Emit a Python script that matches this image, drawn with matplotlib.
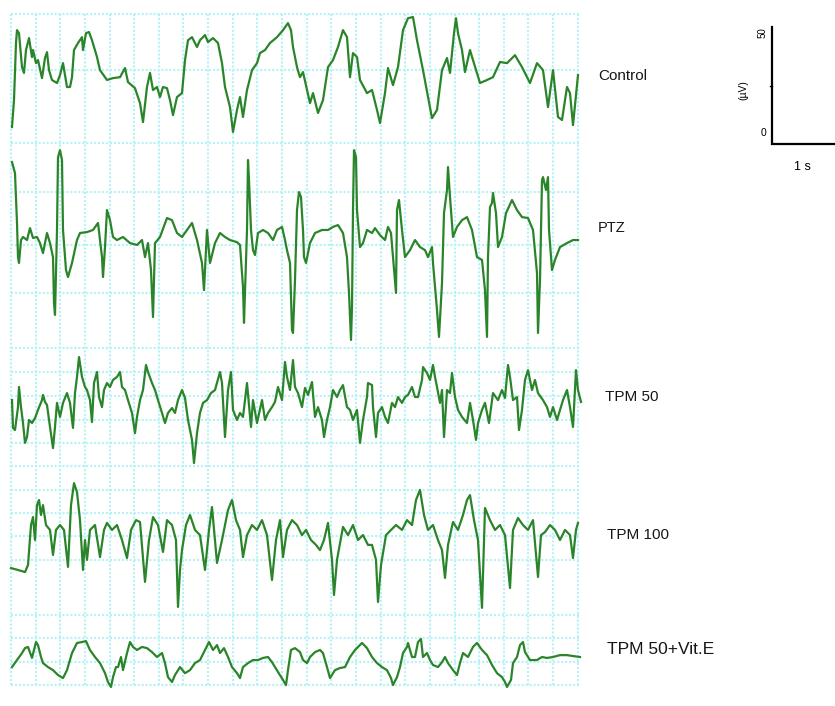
import numpy as np
import matplotlib.pyplot as plt

plt.rcParams['font.family'] = ['Liberation Sans', 'DejaVu Sans']

fs = 61.6

labels = ["Control", "PTZ", "TPM 50", "TPM 100", "TPM 50+Vit.E"]

ctrl_n = [1, 3, 5, 6, 8, 11, 13, 15, 18, 21, 22, 25, 27, 31, 34, 36, 38, 41, 46, 49, 52, 56, 59, 61, 63,
          67, 71, 72, 75, 78, 81, 86, 89, 96, 102, 109, 114, 117, 124, 129, 132, 136, 139, 142, 146, 149,
          152, 156, 159, 162, 166, 171, 174, 177, 181, 186, 189, 194, 197, 202, 207, 211, 214, 219, 222,
          226, 229, 232, 236, 241, 246, 249, 254, 259, 266, 272, 277, 280, 282, 286, 289, 292, 296, 299,
          302, 307, 312, 317, 322, 327, 332, 336, 339, 342, 346, 349, 356, 361, 366, 369, 374, 377, 382,
          387, 392, 397, 402, 406, 412, 417, 421, 426, 431, 436, 439, 443, 445, 447, 451, 454, 459, 462,
          469, 476, 482, 489, 496, 504, 511, 519, 526, 532, 537, 542, 547, 551, 556, 559, 562, 567]
ctrl_uv = [-22.2, -10.7, 13.7, 19.2, 17.9, 3.4, 0.9, 10.7, 15.8, 7.7, 10.7, 5.1, 6.4, -1.3, 7.3, 9.8, 2.1,
           -2.1, -3.4, 0.0, 5.1, -5.1, -5.1, -0.9, 10.7, 13.7, 16.2, 10.7, 17.9, 18.4, 14.9, 7.7, 2.1, -2.1,
           -1.3, -0.9, 3.0, -3.0, -5.6, -12.0, -20.1, -5.1, 0.9, -6.4, -5.1, -9.4, -5.1, -5.6, -10.7, -17.1,
           -9.4, -7.7, 6.4, 14.9, 16.2, 12.0, 14.9, 17.1, 14.1, 15.8, 13.7, 5.1, -5.1, -13.7, -24.3, -14.9,
           -9.4, -17.9, -6.4, 2.1, 5.1, 9.4, 10.7, 13.7, 16.2, 19.2, 22.2, 19.2, 12.0, 3.4, -0.9, 1.3, -6.4,
           -12.0, -7.7, -16.2, -10.7, 3.4, 6.4, 12.0, 19.2, 16.2, -0.9, 9.4, 7.7, -2.1, -7.7, -6.4, -14.9,
           -20.5, -7.7, 3.0, -4.3, 3.4, 19.2, 24.3, 24.8, 14.9, 2.1, -9.4, -18.4, -14.9, 2.1, 7.3, 0.9,
           17.9, 24.3, 17.9, 10.7, 1.3, 10.7, 6.4, -3.4, -2.1, -0.9, 5.6, 5.1, 8.5, 3.4, -3.4, 5.1, 2.1,
           -13.7, 2.1, -17.9, -19.2, -5.1, -7.7, -21.4, 0.0]

ptz_n = [1, 4, 6, 7, 8, 10, 12, 16, 19, 22, 26, 29, 32, 36, 39, 42, 43, 44, 46, 47, 49, 51, 52, 55, 57,
         61, 66, 69, 76, 82, 87, 89, 91, 92, 94, 96, 99, 102, 106, 112, 119, 126, 131, 134, 137, 140, 142,
         144, 149, 156, 161, 166, 171, 176, 181, 186, 191, 193, 196, 199, 204, 209, 214, 219, 226, 229,
         232, 233, 236, 237, 238, 240, 242, 244, 247, 252, 257, 262, 266, 271, 274, 276, 279, 281, 282,
         284, 286, 288, 290, 292, 293, 295, 299, 304, 311, 317, 322, 327, 332, 336, 338, 340, 341, 342,
         343, 345, 346, 349, 352, 356, 361, 364, 369, 374, 377, 380, 382, 385, 386, 388, 391, 394, 399,
         404, 409, 414, 417, 421, 422, 426, 428, 431, 433, 436, 437, 439, 442, 446, 451, 456, 461, 466,
         471, 474, 476, 477, 479, 481, 482, 485, 487, 491, 495, 501, 506, 511, 517, 522, 526, 527, 529,
         531, 532, 535, 537, 538, 541, 544, 549, 556, 562, 567]
ptz_uv = [33.3, 28.6, 7.3, -7.3, -9.8, 0.0, 1.3, 0.0, 5.1, 0.9, 1.3, -1.3, -5.6, 3.0, -1.3, -7.3, -26.9,
          -32.0, 4.3, 35.4, 38.4, 34.2, 4.3, -12.8, -15.8, -9.8, 0.0, 3.0, 3.4, 4.3, 7.3, 0.0, -7.3, -15.8,
          -3.0, 12.8, 8.5, 1.3, 0.0, 1.3, -1.3, -2.1, 0.0, -7.3, -1.3, -12.8, -32.9, -1.3, 1.3, 9.4, 8.5,
          3.0, 1.3, 4.3, 7.3, 0.0, -9.8, -21.4, 4.3, -9.8, -1.3, 3.0, 1.3, 0.0, -0.9, -2.1, -20.1, -35.4,
          4.3, 34.2, 25.6, 4.3, -4.3, -6.4, 3.0, 4.3, 3.0, 0.0, 4.3, 5.6, 0.0, -4.3, -9.8, -38.4, -39.7,
          -17.1, 12.8, 20.5, 18.4, 4.3, -7.3, -9.8, -1.3, 3.0, 4.3, 4.3, 5.6, 6.4, 3.0, -7.3, -22.6, -42.7,
          -28.6, 12.8, 38.4, 35.4, 12.8, -3.0, -1.3, 4.3, 3.0, 5.1, 2.1, 0.0, 5.6, 3.0, -7.3, -22.6, 12.8,
          17.1, 4.3, -7.3, -4.3, 0.0, -3.0, -4.3, -7.3, -3.0, -9.8, -29.9, -41.4, -18.4, 11.5, 21.4, 31.2,
          18.4, 1.3, 5.6, 8.5, 9.8, 4.3, -7.3, -8.5, -21.4, -41.4, -7.3, 14.1, 15.8, 20.1, 11.5, -3.0, 1.3,
          11.5, 17.1, 12.8, 9.8, 9.4, 4.3, -14.1, -39.7, -17.1, 25.6, 26.9, 21.4, 26.9, 4.3, -12.8, -8.5,
          -3.0, -1.3, 0.0, 0.0]

tpm50_n = [1, 2, 4, 7, 8, 10, 12, 14, 16, 18, 21, 24, 27, 31, 32, 34, 36, 39, 42, 44, 46, 49, 52, 56, 59,
           62, 64, 66, 68, 71, 74, 76, 79, 81, 83, 86, 88, 91, 93, 96, 99, 102, 106, 109, 111, 114, 117,
           121, 124, 126, 129, 132, 135, 137, 141, 144, 147, 151, 154, 157, 161, 164, 167, 171, 174, 177,
           181, 183, 186, 189, 192, 196, 200, 204, 209, 211, 214, 217, 220, 222, 226, 229, 232, 236, 240,
           242, 246, 251, 254, 257, 261, 264, 267, 271, 274, 276, 279, 282, 284, 287, 291, 294, 297, 301,
           304, 307, 311, 313, 316, 319, 322, 326, 329, 332, 336, 339, 342, 346, 349, 352, 356, 357, 361,
           362, 365, 367, 371, 374, 377, 381, 384, 387, 391, 394, 397, 401, 404, 407, 411, 412, 416, 419,
           422, 424, 426, 429, 431, 433, 436, 439, 441, 444, 447, 451, 456, 459, 462, 465, 467, 471, 474,
           478, 482, 487, 491, 494, 497, 499, 502, 506, 508, 511, 514, 517, 521, 524, 527, 532, 536, 539,
           542, 546, 549, 552, 556, 559, 562, 565, 567, 570]
tpm50_uv = [2.1, -9.8, -10.7, -0.9, 7.7, -0.9, -7.7, -16.2, -13.7, -6.4, -7.7, -5.6, -2.1, 2.1, 4.3, 1.3,
            0.0, -9.4, -18.4, -9.4, 0.9, -5.1, 0.9, 5.1, 0.9, -9.8, 5.1, 12.0, 20.5, 12.0, 7.7, 6.4, 2.1,
            -7.3, 9.4, 14.1, 3.4, -0.9, 6.4, 9.4, 7.7, 10.7, 12.0, 14.1, 7.7, 6.4, 2.1, -3.4, -12.0, -5.1,
            2.1, 6.4, 17.1, 14.1, 9.4, 6.4, 2.1, -3.4, -7.7, -3.4, -1.3, -3.4, 2.1, 6.4, 3.0, -6.4, -14.9,
            -24.8, -12.0, -3.4, 0.9, 2.1, 5.1, 6.4, 14.1, 9.4, -13.7, 6.4, 14.1, -2.1, -6.4, -3.4, -5.1,
            9.4, -9.4, 2.1, -7.7, 2.1, -6.4, -3.4, -0.9, 1.3, 7.7, 2.1, 18.4, 12.0, 6.4, 19.2, 7.7, 5.1,
            -0.9, 7.3, 4.3, 9.8, -5.1, -0.9, -6.4, -13.7, -6.4, -0.9, 6.4, 3.4, 6.4, 8.5, -0.9, -2.1,
            -6.4, -2.1, -16.2, -6.4, 3.4, 9.4, 8.5, -0.9, -13.7, -3.4, -0.9, -5.1, -7.7, 0.9, -0.9, 3.4,
            0.9, 3.4, 4.3, 7.7, 3.4, 3.4, 10.7, 16.2, 13.7, 10.7, 17.1, 12.0, 7.7, 0.9, 6.4, -13.7, 6.4,
            5.1, 13.7, 3.4, -2.1, -5.1, -7.7, 0.9, -6.4, -14.9, -7.7, -2.1, 0.9, -7.7, 5.1, 2.1, 6.4, 3.0,
            17.1, 12.0, 2.1, 3.4, -10.7, -2.1, 10.7, 14.9, 6.4, 10.7, 5.1, 2.1, -0.9, -5.1, -0.9, -6.4,
            -2.1, 2.1, 6.4, -0.9, -9.4, 14.9, 6.4, 1.3]

tpm100_n = [0, 7, 14, 17, 20, 22, 24, 26, 28, 30, 32, 35, 39, 42, 45, 49, 53, 57, 60, 63, 66, 69, 72, 74,
            76, 79, 84, 89, 93, 96, 101, 106, 111, 116, 120, 125, 129, 134, 138, 142, 147, 152, 156, 161,
            165, 167, 169, 171, 175, 179, 184, 189, 194, 198, 201, 206, 211, 217, 221, 225, 229, 232, 236,
            241, 246, 251, 256, 261, 265, 269, 272, 276, 281, 286, 291, 295, 300, 305, 309, 313, 317, 321,
            323, 326, 332, 337, 342, 347, 352, 357, 361, 365, 367, 370, 375, 380, 385, 391, 396, 401, 405,
            409, 413, 417, 422, 427, 431, 434, 437, 442, 447, 452, 456, 459, 463, 467, 471, 474, 479, 484,
            489, 494, 499, 502, 507, 512, 517, 522, 527, 530, 534, 539, 544, 549, 554, 559, 562, 565, 567]
tpm100_uv = [-12.0, -12.8, -13.7, -10.7, 6.4, 9.8, 0.0, 14.9, 17.1, 10.7, 14.9, 6.4, 4.3, -6.4, 4.3, 6.4,
             4.3, -11.5, 14.9, 24.3, 20.5, 8.5, -12.8, 0.0, -8.5, 4.3, 6.4, -7.3, 4.3, 7.3, 4.3, 6.4, 0.0,
             -7.7, 4.3, 8.5, 7.7, -17.9, 0.0, 9.8, 6.4, -5.1, 8.5, 6.4, 0.0, -28.6, -12.8, -4.3, 6.4, 10.7,
             4.3, 2.1, -12.8, 4.3, 14.1, -9.8, 0.0, 12.8, 17.1, 8.5, 4.3, -7.3, 2.1, 6.4, 4.3, 8.5, 2.1,
             -17.1, 0.0, 8.5, -7.3, 4.3, 8.5, 6.4, 2.1, 4.3, 0.0, -2.1, -4.3, 0.0, 7.3, -8.5, -23.5, -8.5,
             5.6, 2.1, 6.4, 0.0, 2.1, -2.1, -2.1, -8.5, -26.5, -10.7, 2.1, 4.3, 6.4, 4.3, 8.5, 6.4, 17.1,
             21.4, 10.7, 4.3, 6.4, 0.0, -4.3, -16.2, -2.1, 7.7, 4.3, 10.7, 17.1, 19.2, 8.5, 0.0, -29.0,
             13.7, 8.5, 4.3, 6.4, 2.1, -20.5, 4.3, 9.4, 6.4, 4.3, 8.5, -15.8, 2.1, 3.4, 6.4, 4.3, 0.0, 4.3,
             2.1, -7.7, 4.3, 7.3]

vite_n = [1, 6, 11, 14, 17, 21, 25, 27, 30, 32, 37, 42, 47, 52, 56, 61, 66, 71, 75, 79, 84, 89, 94, 97,
          100, 102, 105, 107, 110, 112, 116, 119, 122, 126, 131, 136, 141, 146, 151, 154, 157, 161, 164,
          169, 174, 179, 184, 189, 194, 198, 202, 206, 209, 213, 217, 221, 226, 229, 232, 237, 242, 247,
          252, 257, 261, 264, 267, 272, 275, 277, 280, 284, 289, 292, 296, 299, 304, 309, 312, 316, 319,
          324, 329, 334, 339, 344, 351, 356, 361, 366, 371, 376, 380, 382, 386, 389, 392, 396, 397, 401,
          404, 407, 410, 412, 416, 419, 422, 427, 431, 434, 437, 442, 446, 449, 452, 457, 462, 466, 471,
          476, 481, 486, 491, 494, 496, 500, 502, 506, 509, 512, 514, 519, 526, 531, 536, 542, 549, 556,
          562, 569]
vite_uv = [-3.0, 0.0, 3.0, 5.1, 5.6, 0.9, 7.7, 6.4, 1.3, -1.3, -3.0, -4.3, -6.4, -7.7, -4.3, 3.0, 7.3,
           7.7, 8.1, 4.3, 1.3, -1.3, -5.6, -9.4, -11.5, -7.3, -3.0, -3.0, 1.3, -4.3, 3.0, 7.7, 5.6, 4.3,
           5.6, 5.1, 3.4, 1.3, 3.0, -1.3, -7.3, -9.4, -6.4, -3.0, -5.6, -4.3, -1.3, 0.0, 4.3, 7.7, 4.3,
           6.4, 3.0, 5.1, 1.3, -3.0, -5.6, -7.7, -3.0, -1.3, 0.0, 0.0, 0.9, 1.3, -0.9, -3.0, -5.1, -8.5,
           -10.7, -4.3, 4.3, 5.1, 3.4, 0.0, -1.3, 1.3, 3.4, 4.3, 3.0, -3.0, -7.7, -4.3, -3.4, -3.0, 1.3,
           4.3, 7.3, 5.1, 1.3, -1.3, -3.0, -4.3, -7.7, -10.7, -7.3, -3.0, 3.0, 5.6, 7.3, 1.3, 1.3, 7.7,
           9.0, 1.3, 3.0, 0.0, -2.1, -3.0, -0.9, 1.3, -1.3, -4.3, -6.4, -1.3, 3.0, 1.3, 5.6, 7.3, 4.3,
           2.1, -2.1, -5.6, -7.3, -9.4, -11.5, -8.5, -1.3, 1.3, 6.4, 7.7, 3.4, 0.0, 0.0, 1.3, 0.9, 1.3,
           2.1, 2.1, 1.7, 1.3]

traces = [(ctrl_n, ctrl_uv), (ptz_n, ptz_uv), (tpm50_n, tpm50_uv),
          (tpm100_n, tpm100_uv), (vite_n, vite_uv)]

# layout (uV below top of grid) and label placement in pixels
offsets = [-26.1, -96.6, -167.1, -224.8, -276.1]
label_xy = [(598, 76), (598, 228), (605, 397), (607, 535), (607, 649)]
label_size = [11, 10.5, 11, 11, 12.5]

W, H = 835, 706
fig = plt.figure(figsize=(W / 100, H / 100), dpi=100)
ax = fig.add_axes([11 / W, 16 / H, 567 / W, 676 / H])
ax.set_xlim(0, 567 / fs)
ax.set_ylim(-288.9, 0)
ax.axis('off')

# cyan chart-paper grid
grid_kw = dict(color='#b4f2f6', lw=1.5, linestyle=(0, (1.0, 0.9)), zorder=1, clip_on=False)
for t in np.arange(0, 9.21, 0.4):
    ax.plot([t, t], [-286.8, 0], **grid_kw)
hy = [0, -23.9, -55.1, -76.1, -98.7, -119.2, -142.7, -153, -163.2, -173.5, -183.3, -193.2,
      -203.4, -213.2, -223.1, -233.3, -256.8, -266.7, -276.9, -286.8]
for y in hy:
    ax.plot([0, 9.22], [y, y], **grid_kw)

for (n, uv), off in zip(traces, offsets):
    ax.plot(np.array(n) / fs, off + np.array(uv), color='#2a852a', lw=1.6,
            zorder=3, clip_on=False)

for lab, (x, y), s in zip(labels, label_xy, label_size):
    fig.text(x / W, 1 - y / H, lab, fontsize=s, va='center', ha='left', color='#161616')

# scale bar: 50 uV / 1 s
t0 = (772 - 11) / fs
ax.plot([t0, t0, t0 + 1.05], [-5.6, -55.6, -55.6], color='black', lw=1.6, clip_on=False,
        solid_joinstyle='miter')
ax.plot([t0 - 0.04, t0], [-30.6, -30.6], color='black', lw=1.0, clip_on=False)
ax.text(t0 - 0.14, -51.0, "0", fontsize=7.5, ha='center', va='center', clip_on=False)
ax.text(t0 - 0.16, -8.0, "50", fontsize=7, ha='center', va='center', rotation=90, clip_on=False)
ax.text(t0 - 0.47, -32.5, "(\u00b5V)", fontsize=7.5, ha='center', va='center', rotation=90,
        clip_on=False)
ax.text(t0 + 0.5, -65.4, "1 s", fontsize=9, ha='center', va='center', clip_on=False)

fig.savefig('out.png', dpi=100)
